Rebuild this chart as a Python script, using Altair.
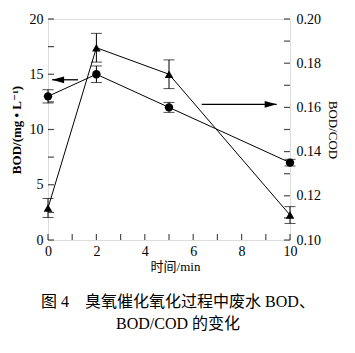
import altair as alt
import pandas as pd

# ---- data ----
time = [0, 2, 5, 10]
bod = [13.0, 15.0, 12.0, 7.0]
bod_err = [0.6, 0.75, 0.45, 0.3]
ratio = [0.1145, 0.187, 0.175, 0.1113]
ratio_err = [0.0043, 0.0065, 0.0065, 0.0038]

x_tick_vals = list(range(0, 11))
x_label_vals = [0, 2, 4, 6, 8, 10]
left_tick_vals = [0, 2.5, 5, 7.5, 10, 12.5, 15, 17.5, 20]
left_label_vals = [0, 5, 10, 15, 20]
right_tick_vals = [0.10, 0.11, 0.12, 0.13, 0.14, 0.15, 0.16, 0.17, 0.18, 0.19, 0.20]
right_label_vals = [0.10, 0.12, 0.14, 0.16, 0.18, 0.20]

left_arrow_t = [1.24, 0.17]
left_arrow_y = 14.5
right_arrow_t = [6.35, 9.45]
right_arrow_y = 0.1614

caption = ["图 4　臭氧催化氧化过程中废水 BOD、", "BOD/COD 的变化"]

W, H = 242, 221
SERIF = "'Liberation Serif', 'DejaVu Serif', 'Noto Sans CJK SC', serif"

df_bod = pd.DataFrame({"t": time, "v": bod,
                       "lo": [b - e for b, e in zip(bod, bod_err)],
                       "hi": [b + e for b, e in zip(bod, bod_err)]})
df_bod_caps = pd.DataFrame({"t": time * 2,
                            "v": list(df_bod["lo"]) + list(df_bod["hi"])})
df_rat = pd.DataFrame({"t": time, "v": ratio,
                       "lo": [r - e for r, e in zip(ratio, ratio_err)],
                       "hi": [r + e for r, e in zip(ratio, ratio_err)]})
df_rat_caps = pd.DataFrame({"t": time * 2,
                            "v": list(df_rat["lo"]) + list(df_rat["hi"])})

xs = alt.Scale(domain=[0, 10], nice=False)
ls = alt.Scale(domain=[0, 20], nice=False)
rs = alt.Scale(domain=[0.10, 0.20], nice=False)

xaxis = alt.Axis(values=x_label_vals, ticks=False, domain=False, grid=False,
                 title="时间/min", labelFont=SERIF, labelFontSize=14,
                 labelColor="black", labelPadding=4, titleFont=SERIF,
                 titleFontSize=13, titleFontWeight="normal", titleColor="black",
                 titlePadding=2, titleX=127, labelFlush=False)
laxis = alt.Axis(values=left_label_vals, ticks=False, domain=False, grid=False,
                 orient="left", title="BOD/(mg • L⁻¹)", labelFont=SERIF,
                 labelFontSize=14, labelColor="black", labelPadding=5,
                 titleFont=SERIF, titleFontSize=13, titleFontWeight="bold",
                 titleColor="black", titlePadding=6)
raxis = alt.Axis(values=right_label_vals, ticks=False, domain=False, grid=False,
                 orient="right", title="BOD/COD", format=".2f", labelFont=SERIF,
                 labelFontSize=14, labelColor="black", labelPadding=6,
                 titleFont=SERIF, titleFontSize=13, titleFontWeight="normal",
                 titleColor="black", titlePadding=5, titleAngle=90)

X = alt.X("t:Q", scale=xs, axis=xaxis)

# ---- left (BOD) group ----
bod_line = alt.Chart(df_bod).mark_line(color="black", strokeWidth=1).encode(
    x=X, y=alt.Y("v:Q", scale=ls, axis=laxis))
bod_err_rule = alt.Chart(df_bod).mark_rule(color="black", strokeWidth=1).encode(
    x=X, y=alt.Y("lo:Q", scale=ls, axis=laxis), y2="hi:Q")
bod_caps = alt.Chart(df_bod_caps).mark_tick(orient="horizontal", size=11,
                                            thickness=1, color="black").encode(
    x=X, y=alt.Y("v:Q", scale=ls, axis=laxis))
bod_pts = alt.Chart(df_bod).mark_point(shape="circle", filled=True, size=70,
                                       color="black", opacity=1).encode(
    x=X, y=alt.Y("v:Q", scale=ls, axis=laxis))
x_ticks = alt.Chart(pd.DataFrame({"v": x_tick_vals})).mark_tick(
    orient="vertical", size=6, thickness=1.2, color="black").encode(
    x=alt.X("v:Q", scale=xs, axis=xaxis), y=alt.value(H - 3))
l_ticks = alt.Chart(pd.DataFrame({"v": left_tick_vals})).mark_tick(
    orient="horizontal", size=6, thickness=1.2, color="black").encode(
    y=alt.Y("v:Q", scale=ls, axis=laxis), x=alt.value(3))
df_la = pd.DataFrame({"t0": [left_arrow_t[0]], "t1": [left_arrow_t[1]],
                      "y": [left_arrow_y]})
l_arrow = alt.Chart(df_la).mark_rule(color="black", strokeWidth=1.3).encode(
    x=alt.X("t0:Q", scale=xs, axis=xaxis), x2="t1:Q",
    y=alt.Y("y:Q", scale=ls, axis=laxis))
l_head = alt.Chart(df_la).mark_point(shape="M0,0 L1,-0.28 L1,0.28 Z", filled=True,
                                     size=576, color="black", opacity=1,
                                     strokeWidth=0).encode(
    x=alt.X("t1:Q", scale=xs, axis=xaxis), y=alt.Y("y:Q", scale=ls, axis=laxis))

left = alt.layer(x_ticks, l_ticks, bod_err_rule, bod_caps, bod_line, bod_pts,
                 l_arrow, l_head)

# ---- right (BOD/COD) group ----
rat_line = alt.Chart(df_rat).mark_line(color="black", strokeWidth=1).encode(
    x=X, y=alt.Y("v:Q", scale=rs, axis=raxis))
rat_err_rule = alt.Chart(df_rat).mark_rule(color="black", strokeWidth=1).encode(
    x=X, y=alt.Y("lo:Q", scale=rs, axis=raxis), y2="hi:Q")
rat_caps = alt.Chart(df_rat_caps).mark_tick(orient="horizontal", size=11,
                                            thickness=1, color="black").encode(
    x=X, y=alt.Y("v:Q", scale=rs, axis=raxis))
rat_pts = alt.Chart(df_rat).mark_point(shape="triangle-up", filled=True, size=75,
                                       color="black", opacity=1).encode(
    x=X, y=alt.Y("v:Q", scale=rs, axis=raxis))
r_ticks = alt.Chart(pd.DataFrame({"v": right_tick_vals})).mark_tick(
    orient="horizontal", size=6, thickness=1.2, color="black").encode(
    y=alt.Y("v:Q", scale=rs, axis=raxis), x=alt.value(W - 3))
df_ra = pd.DataFrame({"t0": [right_arrow_t[0]], "t1": [right_arrow_t[1]],
                      "y": [right_arrow_y]})
r_arrow = alt.Chart(df_ra).mark_rule(color="black", strokeWidth=1.3).encode(
    x=alt.X("t0:Q", scale=xs, axis=xaxis), x2="t1:Q",
    y=alt.Y("y:Q", scale=rs, axis=raxis))
r_head = alt.Chart(df_ra).mark_point(shape="M0,0 L-1,-0.28 L-1,0.28 Z", filled=True,
                                     size=576, color="black", opacity=1,
                                     strokeWidth=0).encode(
    x=alt.X("t1:Q", scale=xs, axis=xaxis), y=alt.Y("y:Q", scale=rs, axis=raxis))

right = alt.layer(r_ticks, rat_err_rule, rat_caps, rat_line, rat_pts,
                  r_arrow, r_head)

chart = alt.layer(left, right).resolve_scale(y="independent").properties(
    width=W, height=H,
    autosize=alt.AutoSizeParams(type="none"),
    padding={"left": 48, "top": 19, "right": 65, "bottom": 113},
    title=alt.TitleParams(text=caption, orient="bottom", anchor="middle",
                          font=SERIF, fontSize=16, fontWeight="normal",
                          color="black", lineHeight=22, offset=21, dx=9),
).configure_view(stroke="black", strokeWidth=1.6).configure(background="white")

chart.save("out.html", embed_options={"renderer": "svg", "actions": False})
